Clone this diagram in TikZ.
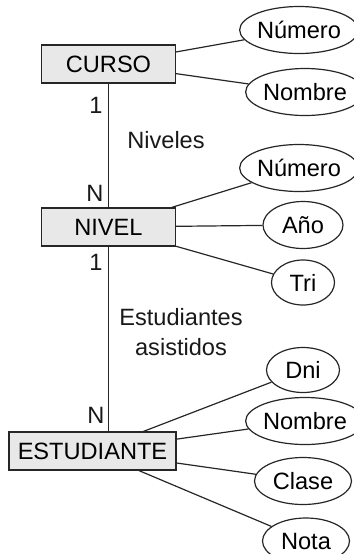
\documentclass[tikz,border=0pt]{standalone}
\usepackage{fontspec}
\setsansfont{Liberation Sans}
\usetikzlibrary{shapes.geometric}

\begin{document}
\begin{tikzpicture}[
		x=0.5pt, y=-0.5pt,
		font=\sffamily\fontsize{11.8}{14.5}\selectfont,
		% Entity and attribute styles
		entity/.style={draw=black!85, line width=0.6pt, fill=black!9, minimum width=67pt, minimum height=19pt, inner sep=0pt},
		attr/.style={draw=black!85, line width=0.6pt, ellipse, fill=white, inner sep=0pt, minimum height=23.5pt},
		% Connector and label styles
		link/.style={draw=black!85, line width=0.6pt},
		tag/.style={inner sep=0pt, text=black!90, align=center}
		]
		
		\useasboundingbox (0,0) rectangle (354,554);
		
		% =========================================================
		% ENTITIES
		% =========================================================
		\node[entity] (Curso) at (108.5, 64) {CURSO};
		\node[entity] (Nivel) at (108.5, 227) {NIVEL};
		\node[entity, minimum width=83.5pt] (Estudiante) at (92.5, 451) {ESTUDIANTE};
		
		% =========================================================
		% ATTRIBUTES
		% =========================================================
		% CURSO
		\node[attr, minimum width=56pt] (CursoNum) at (299, 30) {Número};
		\node[attr, minimum width=50pt] (CursoNom) at (305, 92) {Nombre};
		
		% NIVEL
		\node[attr, minimum width=56pt] (NivelNum) at (299, 168) {Número};
		\node[attr, minimum width=40pt] (NivelAno) at (303, 225) {Año};
		\node[attr, minimum width=31.5pt, minimum height=22.5pt] (NivelTri) at (303, 282.5) {Tri};
		
		% ESTUDIANTE
		\node[attr, minimum width=36.5pt, minimum height=22.5pt] (EstDni) at (303, 370) {Dni};
		\node[attr, minimum width=50pt] (EstNom) at (305, 421) {Nombre};
		\node[attr, minimum width=48.5pt] (EstClase) at (303, 481) {Clase};
		\node[attr, minimum width=43.5pt, minimum height=23pt] (EstNota) at (306, 541) {Nota};
		
		% =========================================================
		% RELATIONSHIPS
		% =========================================================
		\draw[link] (Curso) -- (Nivel);
		\draw[link] (Nivel) -- (Nivel |- Estudiante.north);
		
		\node[tag] (CursoUno) at (96, 105) {1};
		\node[tag] (NivelesLbl) at (166, 140) {Niveles};
		\node[tag] (NivelN) at (95, 193) {N};
		\node[tag] (NivelUno) at (96, 262) {1};
		\node[tag] (AsistLbl) at (181, 332.5) {Estudiantes\\[0.5pt]asistidos};
		\node[tag] (EstN) at (96, 415) {N};
		
		% Attribute links
		\draw[link] (Curso) -- (CursoNum);
		\draw[link] (Curso) -- (CursoNom);
		\draw[link] (Nivel) -- (NivelNum);
		\draw[link] (Nivel) -- (NivelAno);
		\draw[link] (Nivel) -- (NivelTri);
		\draw[link] (Estudiante) -- (EstDni);
		\draw[link] (Estudiante) -- (EstNom);
		\draw[link] (Estudiante) -- (EstClase);
		\draw[link] (Estudiante) -- (EstNota);
		
	\end{tikzpicture}
\end{document}
